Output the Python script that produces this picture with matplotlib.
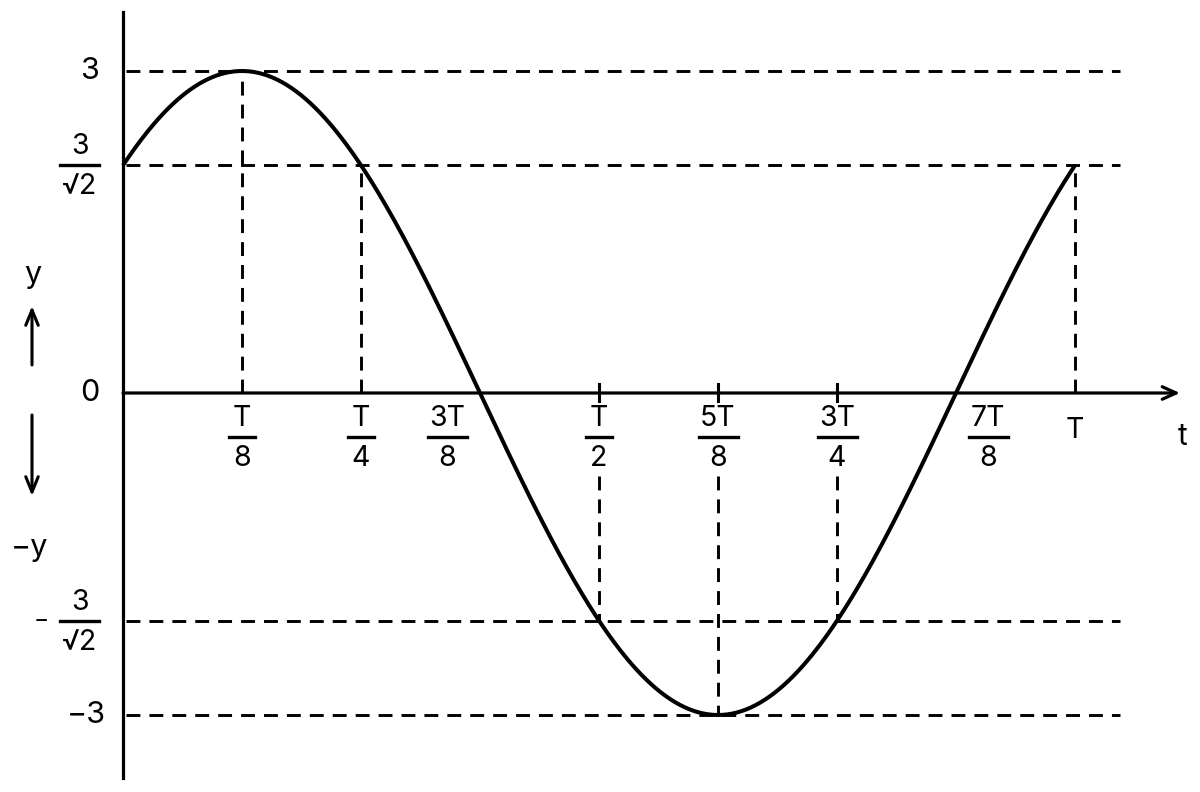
import numpy as np
import matplotlib
matplotlib.use("Agg")
import matplotlib.pyplot as plt

plt.rcParams['font.family'] = ['Inter', 'DejaVu Sans']
plt.rcParams['lines.scale_dashes'] = False

# wave: y = A sin(2*pi*t/T + phase), t in units of T
amplitude = 3.0
phase = np.pi / 4
t_start, t_end = 0.0, 1.0

# marked instants (units of T) and their labels (numerator, denominator)
tick_t = [1/8, 1/4, 3/8, 1/2, 5/8, 3/4, 7/8, 1.0]
tick_num = ["T", "T", "3T", "T", "5T", "3T", "7T", "T"]
tick_den = ["8", "4", "8", "2", "8", "4", "8", None]

# y levels with dashed guide lines
levels = [3.0, 3 / np.sqrt(2), -3 / np.sqrt(2), -3.0]

# pixel layout helpers (figure is 1200x792 at dpi 100)
X0, XS = 123.0, 952.0
Y0, YS = 393.0, 322.0 / 3.0


def px(x):
    return (x - X0) / XS


def py(y):
    return (Y0 - y) / YS


fig = plt.figure(figsize=(12, 7.92), dpi=100)
ax = fig.add_axes([0, 0, 1, 1])
ax.set_xlim(px(0), px(1200))
ax.set_ylim(py(792), py(0))
ax.axis("off")

ink = "black"
dash = (0, (10, 6.5))
dlw = 2.1

# guide lines
for lv in levels:
    ax.plot([px(126), px(1120)], [lv, lv], color=ink, lw=dlw, linestyle=dash)

yv = [amplitude * np.sin(2 * np.pi * t + phase) for t in tick_t]
# vertical dashed drops
for t, v in zip(tick_t, yv):
    if abs(t - 3/8) < 1e-9 or abs(t - 7/8) < 1e-9:
        continue
    if v > 0.01:
        ax.plot([t, t], [0, v], color=ink, lw=dlw, linestyle=dash)
    elif v < -0.01:
        ax.plot([t, t], [py(476), v], color=ink, lw=dlw, linestyle=dash)
        ax.plot([t, t], [py(384), py(401)], color=ink, lw=2.2)

# the wave
tt = np.linspace(t_start, t_end, 600)
ax.plot(tt, amplitude * np.sin(2 * np.pi * tt + phase), color=ink, lw=2.9,
        solid_capstyle="butt")

# axes
ax.plot([0, 0], [py(12), py(778)], color=ink, lw=2.3)
ax.annotate("", xy=(px(1180), 0), xytext=(0, 0),
            arrowprops=dict(arrowstyle="->,head_length=1.0,head_width=0.45",
                            color=ink, lw=2.3, shrinkA=0, shrinkB=0))

fs = 20.5
# t tick labels
offsets = {3/8: -33, 7/8: 32}
for t, num, den in zip(tick_t, tick_num, tick_den):
    xc = X0 + t * XS
    for k, v in offsets.items():
        if abs(t - k) < 1e-9:
            xc += v
    if den is None:
        ax.text(px(xc), py(431), num, ha="center", va="center", fontsize=fs)
        continue
    w = 26 if len(num) == 1 else 39
    ax.text(px(xc), py(418), num, ha="center", va="center", fontsize=fs)
    ax.plot([px(xc - w / 2), px(xc + w / 2)], [py(437), py(437)], color=ink, lw=2.4)
    ax.text(px(xc), py(458), den, ha="center", va="center", fontsize=fs)

ax.text(px(1183), py(437), "t", ha="center", va="center", fontsize=fs + 1)

# y tick labels
ax.text(px(99), 3.0, "3", ha="right", va="center", fontsize=fs + 1.5)
ax.text(px(99), 0.0, "0", ha="right", va="center", fontsize=fs + 1.5)
ax.text(px(106), -3.0, "\u22123", ha="right", va="center", fontsize=fs + 1.5)
for sign, yc in [(1, 165), (-1, 621)]:
    ax.text(px(80), py(yc - 19), "3", ha="center", va="center", fontsize=fs)
    ax.plot([px(60), px(99)], [py(yc), py(yc)], color=ink, lw=2.4)
    ax.text(px(80), py(yc + 21), "\u221a2", ha="center", va="center", fontsize=fs)
    if sign < 0:
        ax.text(px(41), py(yc), "\u2212", ha="center", va="center", fontsize=fs - 4)

# direction hints on the left
ax.text(px(33), py(275), "y", ha="center", va="center", fontsize=fs + 1.5)
ax.annotate("", xy=(px(32), py(306)), xytext=(px(32), py(365)),
            arrowprops=dict(arrowstyle="->,head_length=1.1,head_width=0.45",
                            color=ink, lw=2.2, shrinkA=0, shrinkB=0))
ax.annotate("", xy=(px(32), py(496)), xytext=(px(32), py(415)),
            arrowprops=dict(arrowstyle="->,head_length=1.1,head_width=0.45",
                            color=ink, lw=2.2, shrinkA=0, shrinkB=0))
ax.text(px(30), py(548), "\u2212y", ha="center", va="center", fontsize=fs + 1.5)

fig.savefig("out.png", dpi=100)
